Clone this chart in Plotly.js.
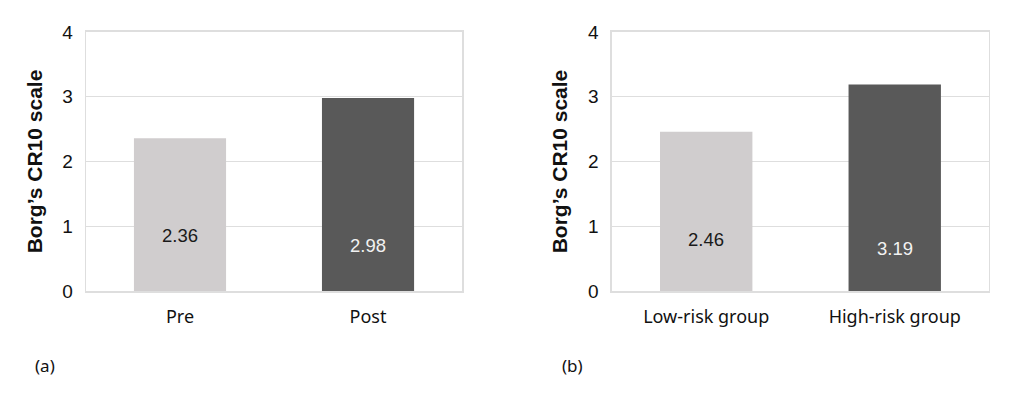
<!DOCTYPE html>
<html>
<head>
<meta charset="utf-8">
<script src="https://cdn.plot.ly/plotly-3.0.1.min.js"></script>
<style>html,body{margin:0;padding:0;background:#fff;}#chart{width:1013px;height:394px;}</style>
</head>
<body>
<div id="chart"></div>
<script>
// Data
const categoriesA = ['Pre', 'Post'];
const valuesA = [2.36, 2.98];
const categoriesB = ['Low-risk group', 'High-risk group'];
const valuesB = [2.46, 3.19];
const barColors = ['#d0cdce', '#595959'];
const labelColors = ['#1a1a1a', '#f2f2f2'];
// vertical placement of value labels (data units)
const labelYA = [0.85, 0.71];
const labelYB = [0.79, 0.66];
const yTicks = [0, 1, 2, 3, 4];
const panelLabels = ['(a)', '(b)'];

const numFont = 'Liberation Sans, Arial, sans-serif';
const txtFont = 'Noto Sans, Open Sans, sans-serif';

const traces = [
  {type: 'bar', x: categoriesA, y: valuesA, xaxis: 'x', yaxis: 'y',
   marker: {color: barColors}, hoverinfo: 'none', showlegend: false},
  {type: 'bar', x: categoriesB, y: valuesB, xaxis: 'x2', yaxis: 'y2',
   marker: {color: barColors}, hoverinfo: 'none', showlegend: false}
];

function yAxis(anchor) {
  return {
    anchor: anchor, domain: [0.2614, 0.9188], range: [0, 4],
    tickvals: yTicks, ticktext: yTicks.map(String),
    showgrid: true, gridcolor: '#dedede', gridwidth: 1.5,
    showline: true, mirror: true, linecolor: '#dedede', linewidth: 1.5,
    zeroline: false, ticks: '', ticklabelstandoff: 8,
    tickfont: {family: numFont, size: 19, color: '#111'},
    title: {text: '<b>Borg\u2019s CR10 scale</b>', font: {family: numFont, size: 21, color: '#111'}, standoff: 14},
    automargin: false, fixedrange: true
  };
}
function xAxis(anchor, domain) {
  return {
    anchor: anchor, domain: domain, type: 'category',
    showgrid: false, showline: true, mirror: true, linecolor: '#dedede', linewidth: 1.5,
    ticks: '', ticklabelstandoff: 9,
    tickfont: {family: txtFont, size: 18, color: '#111'},
    automargin: false, fixedrange: true
  };
}

const annotations = [];
categoriesA.forEach((c, i) => annotations.push({
  xref: 'x', yref: 'y', x: c, y: labelYA[i], text: valuesA[i].toFixed(2), showarrow: false,
  font: {family: numFont, size: 18.5, color: labelColors[i]}
}));
categoriesB.forEach((c, i) => annotations.push({
  xref: 'x2', yref: 'y2', x: c, y: labelYB[i], text: valuesB[i].toFixed(2), showarrow: false,
  font: {family: numFont, size: 18.5, color: labelColors[i]}
}));
annotations.push({xref: 'paper', yref: 'paper', x: 0.0326, y: 0.073, xanchor: 'left', yanchor: 'middle',
  text: panelLabels[0], showarrow: false, font: {family: txtFont, size: 17, color: '#111'}});
annotations.push({xref: 'paper', yref: 'paper', x: 0.5528, y: 0.073, xanchor: 'left', yanchor: 'middle',
  text: panelLabels[1], showarrow: false, font: {family: txtFont, size: 17, color: '#111'}});

const layout = {
  width: 1013, height: 394,
  margin: {l: 0, r: 0, t: 0, b: 0},
  paper_bgcolor: '#fff', plot_bgcolor: '#fff',
  bargap: 0.51,
  xaxis: xAxis('y', [0.0849, 0.4561]),
  yaxis: yAxis('x'),
  xaxis2: xAxis('y2', [0.6041, 0.9763]),
  yaxis2: yAxis('x2'),
  annotations: annotations
};

Plotly.newPlot('chart', traces, layout, {displayModeBar: false, staticPlot: true});
</script>
</body>
</html>
